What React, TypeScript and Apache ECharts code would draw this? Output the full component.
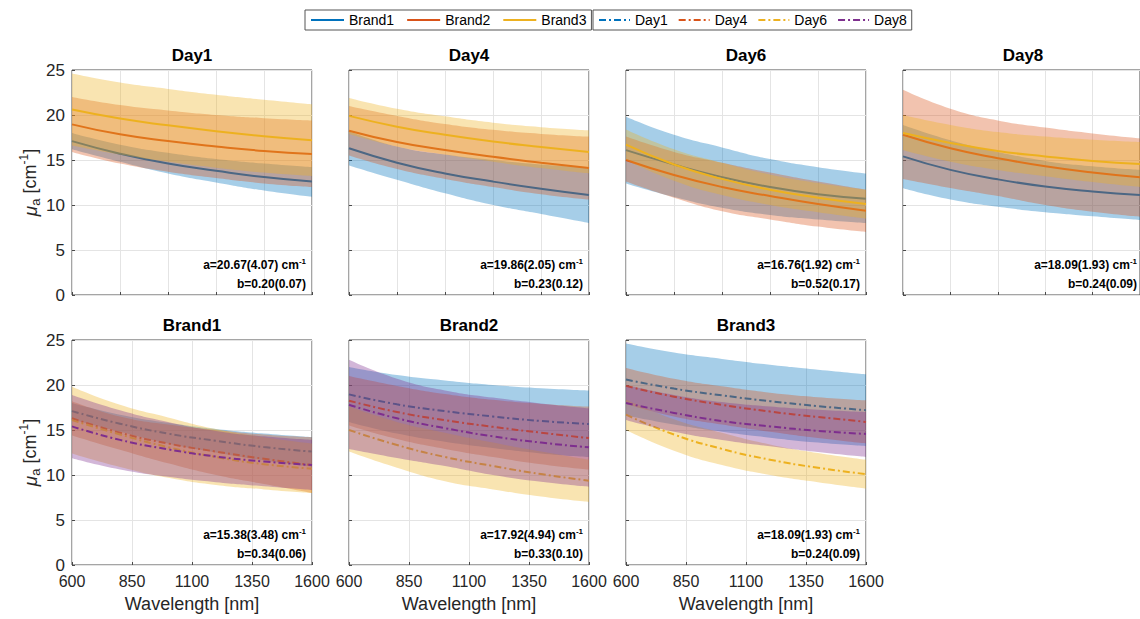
import React, { useEffect, useRef } from 'react';
import * as echarts from 'echarts';

// ---------------- data ----------------
const wavelengths = [600, 800, 1000, 1200, 1400, 1600];
const brandNames = ['Brand1', 'Brand2', 'Brand3'];
const dayNames = ['Day1', 'Day4', 'Day6', 'Day8'];

// Brand1
const b1d1Mean = [17.1, 15.7, 14.6, 13.8, 13.1, 12.6];
const b1d1Upper = [18.0, 16.7, 15.8, 15.1, 14.6, 14.2];
const b1d1Lower = [16.2, 14.8, 13.5, 12.5, 11.6, 10.9];
const b1d4Mean = [16.3, 14.7, 13.5, 12.6, 11.8, 11.1];
const b1d4Upper = [18.2, 16.5, 15.6, 15.0, 14.5, 14.2];
const b1d4Lower = [14.4, 12.8, 11.3, 10.0, 9.0, 8.0];
const b1d6Mean = [16.1, 14.5, 13.1, 12.0, 11.2, 10.7];
const b1d6Upper = [19.8, 17.8, 16.4, 15.1, 14.2, 13.5];
const b1d6Lower = [12.4, 10.9, 9.7, 8.9, 8.4, 8.0];
const b1d8Mean = [15.4, 13.9, 12.85, 12.05, 11.5, 11.1];
const b1d8Upper = [18.9, 17.2, 15.9, 14.9, 14.3, 13.9];
const b1d8Lower = [11.85, 10.6, 9.8, 9.2, 8.75, 8.33];
// Brand2
const b2d1Mean = [18.96, 17.85, 17.1, 16.5, 16.0, 15.67];
const b2d1Upper = [22.0, 21.1, 20.5, 20.0, 19.65, 19.4];
const b2d1Lower = [15.9, 14.6, 13.7, 13.0, 12.4, 12.0];
const b2d4Mean = [18.26, 17.0, 16.1, 15.35, 14.7, 14.1];
const b2d4Upper = [21.0, 19.9, 19.0, 18.35, 17.9, 17.6];
const b2d4Lower = [15.5, 14.0, 12.9, 12.0, 11.2, 10.6];
const b2d6Mean = [15.0, 13.33, 12.0, 11.0, 10.1, 9.37];
const b2d6Upper = [17.6, 15.9, 14.7, 13.6, 12.6, 11.7];
const b2d6Lower = [12.6, 10.8, 9.3, 8.4, 7.6, 7.0];
const b2d8Mean = [17.8, 16.3, 15.2, 14.3, 13.6, 13.07];
const b2d8Upper = [22.8, 20.7, 19.4, 18.6, 17.95, 17.4];
const b2d8Lower = [12.9, 11.9, 11.0, 10.0, 9.25, 8.7];
// Brand3
const b3d1Mean = [20.6, 19.6, 18.85, 18.2, 17.65, 17.2];
const b3d1Upper = [24.6, 23.6, 22.9, 22.25, 21.7, 21.2];
const b3d1Lower = [16.6, 15.6, 14.8, 14.15, 13.6, 13.2];
const b3d4Mean = [19.9, 18.7, 17.8, 17.05, 16.45, 15.9];
const b3d4Upper = [21.9, 20.7, 19.85, 19.15, 18.65, 18.3];
const b3d4Lower = [17.9, 16.5, 15.6, 14.8, 14.1, 13.5];
const b3d6Mean = [16.7, 14.5, 12.9, 11.7, 10.8, 10.1];
const b3d6Upper = [18.4, 16.2, 14.7, 13.4, 12.45, 11.7];
const b3d6Lower = [15.0, 12.7, 11.1, 10.0, 9.2, 8.5];
const b3d8Mean = [18.0, 16.9, 16.0, 15.4, 14.9, 14.56];
const b3d8Upper = [20.0, 18.9, 18.1, 17.6, 17.25, 17.0];
const b3d8Lower = [16.1, 14.8, 13.9, 13.2, 12.55, 12.0];

const topXTicks = [600, 800, 1000, 1200, 1400, 1600];
const bottomXTicks = [600, 850, 1100, 1350, 1600];
const yMin = 0;
const yMax = 25;
const yStep = 5;

const dayPanelFitA = ['a=20.67(4.07)', 'a=19.86(2.05)', 'a=16.76(1.92)', 'a=18.09(1.93)'];
const dayPanelFitB = ['b=0.20(0.07)', 'b=0.23(0.12)', 'b=0.52(0.17)', 'b=0.24(0.09)'];
const brandPanelFitA = ['a=15.38(3.48)', 'a=17.92(4.94)', 'a=18.09(1.93)'];
const brandPanelFitB = ['b=0.34(0.06)', 'b=0.33(0.10)', 'b=0.24(0.09)'];

// ---------------- styling / layout ----------------
const FONT = "'Liberation Sans', Arial, Helvetica, sans-serif";
const BRAND_COLORS = ['#0072BD', '#D95319', '#EDB120'];
const DAY_COLORS = ['#0072BD', '#D95319', '#EDB120', '#7E2F8E'];
const PANEL_LEFTS = [72, 349, 626, 903];
const PANEL_W = 240;
const PANEL_H = 225;
const ROW_TOPS = [70, 340];
const BAND_OPACITY = 0.35;
const TEXT_COLOR = '#262626';
const SMOOTH = 0.5;

type Curve = { mean: number[]; upper: number[]; lower: number[] };
const curves: Curve[][] = [
  [
    { mean: b1d1Mean, upper: b1d1Upper, lower: b1d1Lower },
    { mean: b1d4Mean, upper: b1d4Upper, lower: b1d4Lower },
    { mean: b1d6Mean, upper: b1d6Upper, lower: b1d6Lower },
    { mean: b1d8Mean, upper: b1d8Upper, lower: b1d8Lower },
  ],
  [
    { mean: b2d1Mean, upper: b2d1Upper, lower: b2d1Lower },
    { mean: b2d4Mean, upper: b2d4Upper, lower: b2d4Lower },
    { mean: b2d6Mean, upper: b2d6Upper, lower: b2d6Lower },
    { mean: b2d8Mean, upper: b2d8Upper, lower: b2d8Lower },
  ],
  [
    { mean: b3d1Mean, upper: b3d1Upper, lower: b3d1Lower },
    { mean: b3d4Mean, upper: b3d4Upper, lower: b3d4Lower },
    { mean: b3d6Mean, upper: b3d6Upper, lower: b3d6Lower },
    { mean: b3d8Mean, upper: b3d8Upper, lower: b3d8Lower },
  ],
];

type Panel = {
  title: string;
  row: number;
  col: number;
  items: { name: string; color: string; dashed: boolean; curve: Curve }[];
  fitA: string;
  fitB: string;
};

function buildOption() {
  const panels: Panel[] = [
    ...dayNames.map((d, di) => ({
      title: d,
      row: 0,
      col: di,
      items: brandNames.map((b, bi) => ({ name: b, color: BRAND_COLORS[bi], dashed: false, curve: curves[bi][di] })),
      fitA: dayPanelFitA[di],
      fitB: dayPanelFitB[di],
    })),
    ...brandNames.map((b, bi) => ({
      title: b,
      row: 1,
      col: bi,
      items: dayNames.map((d, di) => ({ name: d, color: DAY_COLORS[di], dashed: true, curve: curves[bi][di] })),
      fitA: brandPanelFitA[bi],
      fitB: brandPanelFitB[bi],
    })),
  ];
  const nPanels = panels.length;

  const grid: any[] = [];
  const valueXAxes: any[] = [];
  const bandXAxes: any[] = [];
  const yAxis: any[] = [];
  const series: any[] = [];
  const title: any[] = [];
  const graphic: any[] = [];

  panels.forEach((p, gi) => {
    const left = PANEL_LEFTS[p.col];
    const top = ROW_TOPS[p.row];
    const bottomRow = p.row === 1;
    grid.push({
      left,
      top,
      width: PANEL_W,
      height: PANEL_H,
      show: true,
      borderColor: '#4a4a4a',
      borderWidth: 1,
      backgroundColor: '#ffffff',
    });
    const ticks = bottomRow ? bottomXTicks : topXTicks;
    valueXAxes.push({
      type: 'value',
      gridIndex: gi,
      min: ticks[0],
      max: ticks[ticks.length - 1],
      axisLine: { show: false },
      axisTick: { show: true, inside: true, length: 3, lineStyle: { color: '#4a4a4a' }, customValues: ticks },
      axisLabel: {
        show: bottomRow,
        customValues: ticks,
        formatter: (v: number) => String(v),
        margin: 8,
        fontSize: 16,
        color: TEXT_COLOR,
        fontFamily: FONT,
      },
      splitLine: { show: true, lineStyle: { color: '#e4e4e4', width: 1 } },
      name: bottomRow ? 'Wavelength [nm]' : '',
      nameLocation: 'middle',
      nameGap: 30,
      nameTextStyle: { fontSize: 18, color: TEXT_COLOR, fontFamily: FONT },
    });
    // hidden evenly spaced category axis over the same sample wavelengths, used to stack the bands
    bandXAxes.push({
      type: 'category',
      gridIndex: gi,
      data: wavelengths.map(String),
      boundaryGap: false,
      show: false,
    });
    yAxis.push({
      type: 'value',
      gridIndex: gi,
      min: yMin,
      max: yMax,
      interval: yStep,
      axisLine: { show: false },
      axisTick: { show: true, inside: true, length: 3, lineStyle: { color: '#4a4a4a' } },
      axisLabel: { show: p.col === 0, margin: 7, fontSize: 17, color: TEXT_COLOR, fontFamily: FONT },
      splitLine: { show: true, lineStyle: { color: '#e4e4e4', width: 1 } },
      name: p.col === 0 ? '{mu|μ}{sub|a}{t| [cm}{sup|-1}{t|]}' : '',
      nameLocation: 'middle',
      nameRotate: 90,
      nameGap: 30,
      nameTextStyle: {
        fontSize: 18,
        color: TEXT_COLOR,
        fontFamily: FONT,
        rich: {
          mu: { fontSize: 19, fontStyle: 'italic', color: TEXT_COLOR, fontFamily: FONT, lineHeight: 24 },
          t: { fontSize: 18, color: TEXT_COLOR, fontFamily: FONT, lineHeight: 24 },
          sub: { fontSize: 13, color: TEXT_COLOR, fontFamily: FONT, verticalAlign: 'bottom', lineHeight: 13 },
          sup: { fontSize: 12, color: TEXT_COLOR, fontFamily: FONT, verticalAlign: 'top', lineHeight: 12 },
        },
      },
    });

    p.items.forEach((it, ci) => {
      const key = `band-${gi}-${ci}`;
      // each mean line sits under its own band and under the bands drawn after it
      const lineZ = 3 + 2 * ci;
      const bandZ = 4 + 2 * ci;
      series.push({
        type: 'line',
        name: it.name,
        xAxisIndex: gi,
        yAxisIndex: gi,
        z: lineZ,
        data: wavelengths.map((w, i) => [w, it.curve.mean[i]]),
        smooth: SMOOTH,
        symbol: 'none',
        silent: true,
        itemStyle: { color: it.color },
        lineStyle: { color: it.color, width: 2, type: it.dashed ? [7, 3, 2, 3] : 'solid' },
      });
      series.push({
        type: 'line',
        name: key + '-lo',
        xAxisIndex: nPanels + gi,
        yAxisIndex: gi,
        z: bandZ,
        stack: key,
        data: it.curve.lower,
        smooth: SMOOTH,
        symbol: 'none',
        silent: true,
        lineStyle: { width: 0, opacity: 0 },
      });
      series.push({
        type: 'line',
        name: key + '-hi',
        xAxisIndex: nPanels + gi,
        yAxisIndex: gi,
        z: bandZ,
        stack: key,
        data: it.curve.upper.map((u, i) => u - it.curve.lower[i]),
        smooth: SMOOTH,
        symbol: 'none',
        silent: true,
        lineStyle: { width: 0, opacity: 0 },
        areaStyle: { color: it.color, opacity: BAND_OPACITY },
      });
    });

    title.push({
      text: p.title,
      left: left + PANEL_W / 2,
      top: top - 23,
      textAlign: 'center',
      padding: 0,
      textStyle: { fontSize: 17, fontWeight: 'bold', color: '#000', fontFamily: FONT },
    });

    const rx = left + PANEL_W - 6;
    const by = top + PANEL_H;
    graphic.push({
      type: 'text',
      x: rx,
      y: by - 30,
      z: 100,
      silent: true,
      style: {
        text: `{t|${p.fitA} cm}{s|-1}`,
        align: 'right',
        verticalAlign: 'middle',
        rich: {
          t: { fontSize: 12, fontWeight: 'bold', fill: '#000', fontFamily: FONT, lineHeight: 16 },
          s: { fontSize: 8, fontWeight: 'bold', fill: '#000', fontFamily: FONT, verticalAlign: 'top', lineHeight: 8 },
        },
      },
    });
    graphic.push({
      type: 'text',
      x: rx,
      y: by - 11,
      z: 100,
      silent: true,
      style: {
        text: p.fitB,
        align: 'right',
        verticalAlign: 'middle',
        fontSize: 12,
        fontWeight: 'bold',
        fill: '#000',
        fontFamily: FONT,
      },
    });
  });

  const legendCommon = {
    top: 10,
    orient: 'horizontal',
    padding: [3, 5],
    itemHeight: 14,
    borderColor: '#555',
    borderWidth: 1,
    backgroundColor: '#fff',
    selectedMode: false,
    itemStyle: { opacity: 0 },
    textStyle: { fontSize: 14, color: '#000', fontFamily: FONT },
  };

  return {
    animation: false,
    backgroundColor: '#ffffff',
    title,
    legend: [
      { ...legendCommon, left: 305, data: brandNames, itemWidth: 33, itemGap: 12 },
      { ...legendCommon, left: 593, data: dayNames, itemWidth: 31, itemGap: 10 },
    ],
    grid,
    xAxis: [...valueXAxes, ...bandXAxes],
    yAxis,
    series,
    graphic,
  };
}

export default function App() {
  const ref = useRef<HTMLDivElement>(null);
  useEffect(() => {
    if (!ref.current) return;
    const chart = echarts.init(ref.current, null, { renderer: 'svg' });
    chart.setOption(buildOption() as any);
    return () => chart.dispose();
  }, []);
  return (
    <div
      ref={ref}
      style={{ position: 'absolute', left: 0, top: 0, width: 1140, height: 619, background: '#fff' }}
    />
  );
}
